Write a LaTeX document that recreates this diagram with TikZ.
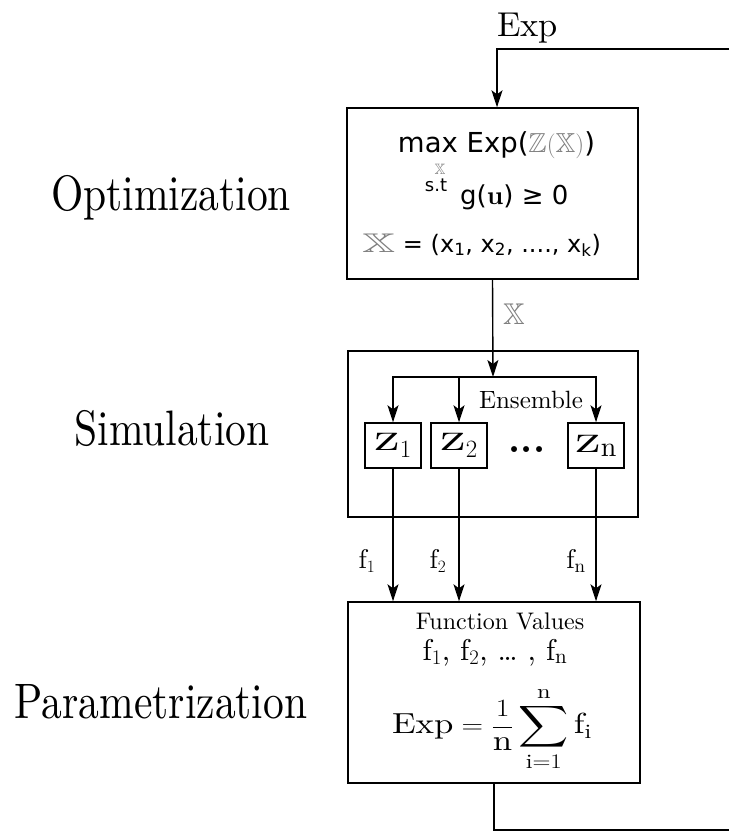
\documentclass[tikz,border=0pt]{standalone}
\usepackage{amssymb}
\usepackage{graphicx}
\usepackage{fontspec}
\setmainfont{lmroman10-regular.otf}[BoldFont=lmroman10-bold.otf]
\newfontfamily\dvs{DejaVu Sans}
\usetikzlibrary{arrows.meta}
\definecolor{bbgray}{gray}{0.5}
\tikzset{
  box/.style={draw, line width=1.4pt, inner sep=0pt},
  zbox/.style={draw, line width=1.4pt, inner sep=0pt, minimum width=56pt, minimum height=45pt,
    font=\fontsize{40}{46}\selectfont},
  arr/.style={-{Stealth[length=17pt,width=11pt,inset=4pt]}, line width=1.4pt},
  conn/.style={line width=1.4pt},
  side/.style={anchor=base, font=\fontsize{41.5}{48}\selectfont},
  txt/.style={anchor=base, inner sep=0pt},
}
\begin{document}
\begin{tikzpicture}[x=1pt,y=-1pt]
\useasboundingbox (0,0) rectangle (729,832);

% side labels
\node[side] (lopt) at (171,210) {\scalebox{1}[1.2]{Optimization}};
\node[side] (lsim) at (172,445) {\scalebox{1}[1.2]{Simulation}};
\node[side] (lpar) at (161,718) {\scalebox{1}[1.2]{Parametrization}};

% boxes
\node[box, minimum width=291pt, minimum height=171pt] (opt) at (492.5,193.5) {};
\node[box, minimum width=290pt, minimum height=166pt] (sim) at (493,434) {};
\node[box, minimum width=292pt, minimum height=181pt] (par) at (494,692.5) {};

% optimization text
\node[txt, font=\dvs\fontsize{27.5}{32}\selectfont] (o1) at (496.5,152)
  {max Exp({\color{bbgray}$\mathbb{Z}(\mathbb{X})$})};
\node[txt, font=\fontsize{15}{17}\selectfont, text=bbgray] (o1x) at (440,174) {$\mathbb{X}$};
\node[txt, font=\dvs\fontsize{18}{22}\selectfont] (o2a) at (436,191) {s.t};
\node[txt, font=\dvs\fontsize{26}{30}\selectfont, anchor=base west] (o2b) at (460,204)
  {g({\rmfamily\bfseries u}) ≥ 0};
\node[txt, font=\dvs\fontsize{24}{28}\selectfont, anchor=base west] (o3) at (362,252)
  {{\color{bbgray}\scalebox{1.7}[1]{\fontsize{27}{30}\selectfont$\mathbb{X}$}} = (x\textsubscript{1}, x\textsubscript{2}, ...., x\textsubscript{k})};

% top Exp label and feedback
\node[txt, font=\fontsize{34.5}{40}\selectfont] (expl) at (527.5,37) {Exp};
\coordinate (tr) at (729,49);
\coordinate (tl) at (497,49);
\draw[arr] (tr) -- (tl) -- (tl |- opt.north);

% X label between opt and sim
\node[font=\fontsize{30}{34}\selectfont, text=bbgray] (xl) at (514,314) {$\mathbb{X}$};

% simulation
\coordinate (j) at (493,377);
\draw[arr] (opt.south) -- (j);
\node[zbox] (z1) at (393,445.5) {\scalebox{1.45}[1]{$\mathrm{z}$}$_1$};
\node[zbox] (z2) at (459,445.5) {\scalebox{1.45}[1]{$\mathrm{z}$}$_2$};
\node[zbox] (zn) at (596,445.5) {\scalebox{1.45}[1]{$\mathrm{z}$}$_{\mathrm{n}}$};
\node[txt, font=\bfseries\fontsize{38}{42}\selectfont] (dots) at (527,452) {...};
\node[font=\fontsize{25}{30}\selectfont] (ens) at (531,400) {Ensemble};
\draw[arr] (j) -| (z1.north);
\draw[arr] (j) -| (zn.north);
\draw[arr] (z2.north |- j) -- (z2.north);

% outputs
\draw[arr] (z1.south) -- (z1.south |- par.north);
\draw[arr] (z2.south) -- (z2.south |- par.north);
\draw[arr] (zn.south) -- (zn.south |- par.north);
\node[font=\fontsize{27}{30}\selectfont] (f1) at (367,561) {$\mathrm{f}_1$};
\node[font=\fontsize{27}{30}\selectfont] (f2) at (438,561) {$\mathrm{f}_2$};
\node[font=\fontsize{27}{30}\selectfont] (fn) at (576,561) {$\mathrm{f}_{\mathrm{n}}$};

% parametrization text
\node[txt, font=\fontsize{24}{28}\selectfont] (pv) at (500,629) {Function Values};
\node[txt, font=\fontsize{30}{34}\selectfont] (pf) at (495,660)
  {$\mathrm{f}_1$, $\mathrm{f}_2$, \dots\ , $\mathrm{f}_{\mathrm{n}}$};
\node[font=\fontsize{29}{34}\selectfont, inner sep=0pt] (pe) at (492,729)
  {\scalebox{1.2}[1]{$\displaystyle \mathrm{Exp} = \frac{1}{\mathrm{n}}\sum_{\mathrm{i}=1}^{\mathrm{n}}\mathrm{f}_{\mathrm{i}}$}};

% feedback out of parametrization
\coordinate (bl) at (par.south |- 0,830);
\coordinate (br) at (729,830);
\draw[conn] (par.south) -- (bl) -- (br);
\end{tikzpicture}
\end{document}
